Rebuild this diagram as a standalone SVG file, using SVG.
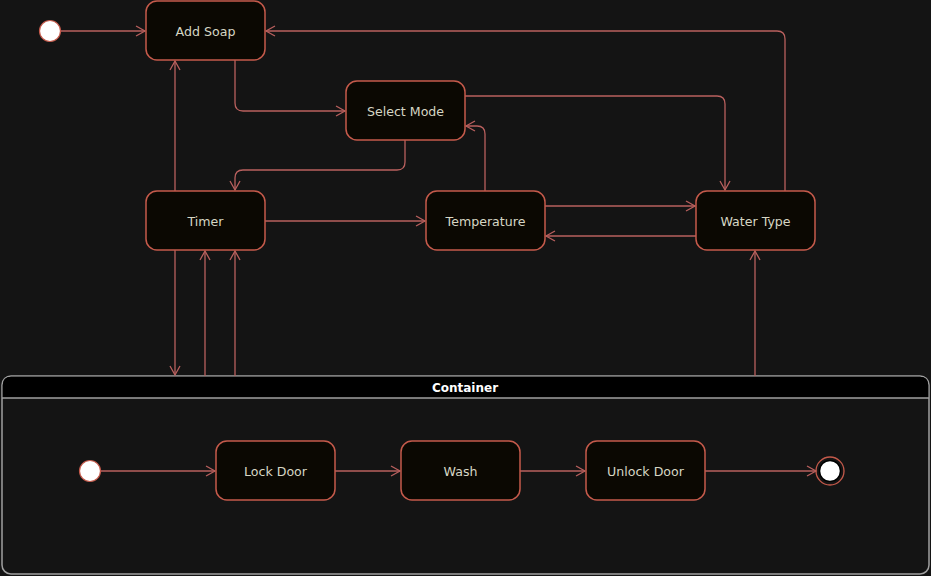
<svg xmlns="http://www.w3.org/2000/svg" width="931" height="576" viewBox="0 0 931 576">
<style>
.node rect{fill:#0b0802;stroke:#c55a4b;stroke-width:1.5}
.node text{fill:#d6d6c4;font-family:"DejaVu Sans",sans-serif;font-size:12.6px;text-anchor:middle;dominant-baseline:central}
.edges path{fill:none;stroke:#b9605e;stroke-width:1.3;marker-end:url(#arr)}
.init{fill:#fff;stroke:#c55a4b;stroke-width:1.2}
</style>
<defs>
<marker id="arr" markerWidth="12" markerHeight="12" refX="10" refY="6" orient="auto" markerUnits="userSpaceOnUse">
<path d="M1,1 L10,6 L1,11" fill="none" stroke="#b9605e" stroke-width="1.3"/>
</marker>
</defs>
<rect x="0" y="0" width="931" height="576" fill="#141414"/>
<g id="container">
<rect x="2" y="376" width="927" height="198" rx="9" fill="#141414" stroke="#a0a0a0" stroke-width="1.5"/>
<path d="M2.75,398 V385 Q2.75,376.75 11,376.75 H920 Q928.25,376.75 928.25,385 V398 Z" fill="#000"/>
<line x1="2" y1="398" x2="929" y2="398" stroke="#a0a0a0" stroke-width="1.5"/>
<text x="465" y="388" fill="#fff" font-family="DejaVu Sans,sans-serif" font-size="12" font-weight="bold" text-anchor="middle" dominant-baseline="central">Container</text>
</g>
<g class="edges" id="edges">
<path d="M61,31 H145"/>
<path d="M235,60 V103 Q235,111 243,111 H345"/>
<path d="M405,140 V162 Q405,170 397,170 H243 Q235,170 235,178 V190"/>
<path d="M465,96 H717 Q725,96 725,104 V190"/>
<path d="M485,191 V134 Q485,126 477,126 H466"/>
<path d="M785,191 V39 Q785,31 777,31 H266"/>
<path d="M175,191 V61"/>
<path d="M265,221 H425"/>
<path d="M545,206 H695"/>
<path d="M696,236 H546"/>
<path d="M175,250 V375"/>
<path d="M205,376 V251"/>
<path d="M235,376 V251"/>
<path d="M755,376 V251"/>
<path d="M101,471 H215"/>
<path d="M335,471 H400"/>
<path d="M520,471 H585"/>
<path d="M705,471 H816"/>
</g>
<g id="start"><circle class="init" cx="50" cy="31" r="10.5"/></g>
<g class="node" id="add-soap"><rect x="146" y="1" width="119" height="59" rx="11"/><text x="205.5" y="31">Add Soap</text></g>
<g class="node" id="select-mode"><rect x="346" y="81" width="119" height="59" rx="11"/><text x="405.5" y="111">Select Mode</text></g>
<g class="node" id="timer"><rect x="146" y="191" width="119" height="59" rx="11"/><text x="205.5" y="221">Timer</text></g>
<g class="node" id="temperature"><rect x="426" y="191" width="119" height="59" rx="11"/><text x="485.5" y="221">Temperature</text></g>
<g class="node" id="water-type"><rect x="696" y="191" width="119" height="59" rx="11"/><text x="755.5" y="221">Water Type</text></g>
<g id="inner-start"><circle class="init" cx="90" cy="471" r="10.5"/></g>
<g class="node" id="lock-door"><rect x="216" y="441" width="119" height="59" rx="11"/><text x="275.5" y="471">Lock Door</text></g>
<g class="node" id="wash"><rect x="401" y="441" width="119" height="59" rx="11"/><text x="460.5" y="471">Wash</text></g>
<g class="node" id="unlock-door"><rect x="586" y="441" width="119" height="59" rx="11"/><text x="645.5" y="471">Unlock Door</text></g>
<g id="final"><circle cx="830" cy="471" r="14" fill="none" stroke="#c55a4b" stroke-width="1.3"/><circle cx="830" cy="471" r="10.5" fill="#fff" stroke="#000" stroke-width="1.5"/></g>
</svg>
